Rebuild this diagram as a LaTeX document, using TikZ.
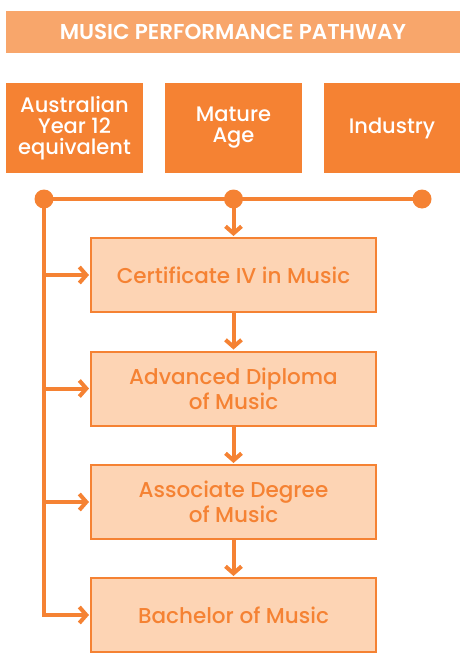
\documentclass[tikz,border=0pt]{standalone}
\usepackage{fontspec}
\setmainfont{Poppins}
\IfFontExistsTF{Poppins Medium}{\newfontfamily\medfont{Poppins Medium}}{\newfontfamily\medfont{Poppins}}
\IfFontExistsTF{Poppins SemiBold}{\newfontfamily\semifont{Poppins SemiBold}}{\newfontfamily\semifont{Poppins}[UprightFont=*-Bold]}
\usetikzlibrary{arrows.meta}
\definecolor{orangeM}{HTML}{F58233}
\definecolor{orangeT}{HTML}{F8A66B}
\definecolor{orangeL}{HTML}{FDD4B4}
\tikzset{
  titlebox/.style={fill=orangeT, text=white, minimum width=454pt, minimum height=42pt, inner sep=0pt, font=\fontsize{21.5}{22}\selectfont\semifont},
  srcbox/.style={fill=orangeM, text=white, minimum width=137pt, minimum height=90pt, inner sep=0pt, align=center, font=\fontsize{21}{21}\selectfont\medfont},
  stagebox/.style={fill=orangeL, draw=orangeM, line width=2pt, text=orangeM, minimum width=285pt, minimum height=74pt, inner sep=0pt, align=center, font=\fontsize{21.5}{25}\selectfont\medfont},
  dot/.style={circle, fill=orangeM, minimum size=19pt, inner sep=0pt},
  conn/.style={draw=orangeM, line width=4pt},
  arr/.style={conn, -{Straight Barb[length=7pt, width=16pt, line width=4pt]}, shorten >=1pt},
}
\begin{document}
\begin{tikzpicture}[x=1pt, y=-1pt]
\useasboundingbox (0,0) rectangle (460,653);
\node[titlebox] (title) at (233,32) {MUSIC PERFORMANCE PATHWAY};
\node[srcbox] (aus) at (74.5,128) {Australian\\Year 12\\equivalent};
\node[srcbox] (mat) at (233.5,128) {Mature\\Age};
\node[srcbox] (ind) at (392,128) {Industry};
\node[stagebox] (cert) at (233.5,275) {Certificate IV in Music};
\node[stagebox] (adv) at (233.5,388.5) {Advanced Diploma\\of Music};
\node[stagebox] (asso) at (233.5,502) {Associate Degree\\of Music};
\node[stagebox] (bach) at (233.5,615) {Bachelor of Music};
\node[dot] (d1) at (44,199) {};
\node[dot] (d2) at (233.5,199) {};
\node[dot] (d3) at (422,199) {};
\draw[conn] (d1.center) -- (d3.center);
\draw[arr] (d2.center) -- (cert.north);
\draw[arr] (cert.south) -- (adv.north);
\draw[arr] (adv.south) -- (asso.north);
\draw[arr] (asso.south) -- (bach.north);
\draw[arr, line join=miter] (d1.center) |- (bach.west);
\draw[arr] (d1.center |- cert.west) -- (cert.west);
\draw[arr] (d1.center |- adv.west) -- (adv.west);
\draw[arr] (d1.center |- asso.west) -- (asso.west);
\end{tikzpicture}
\end{document}
